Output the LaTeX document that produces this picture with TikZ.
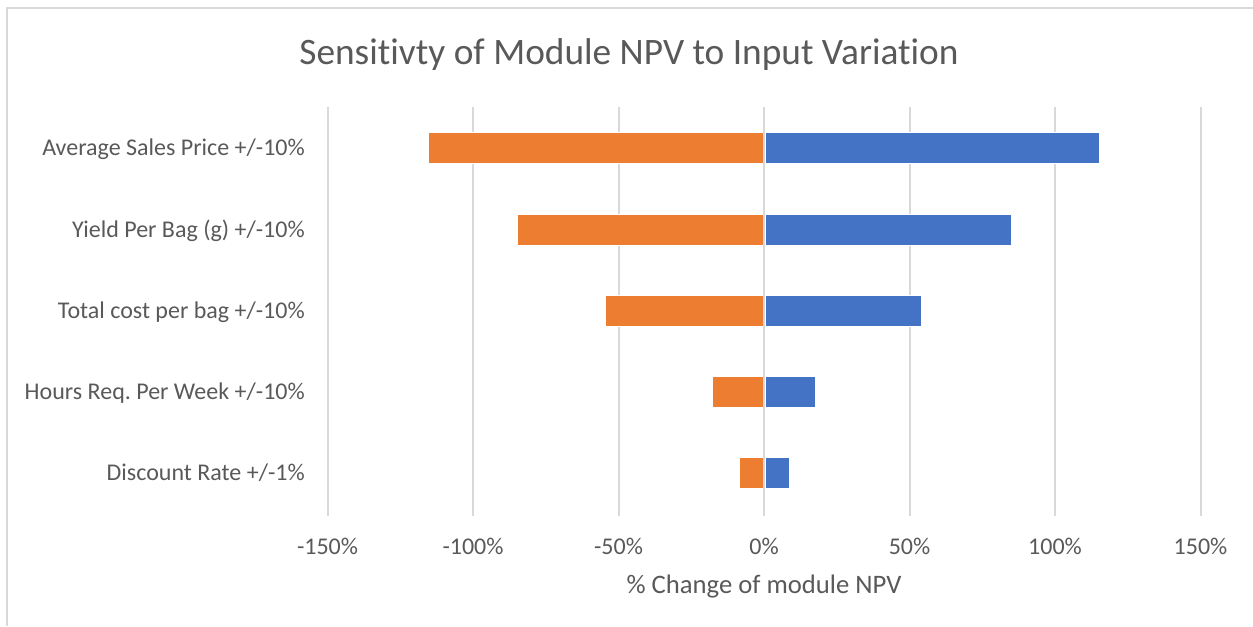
\documentclass[tikz,border=0pt]{standalone}
\usepackage{fontspec}
\setmainfont{Carlito}[Ligatures=NoCommon]
\usetikzlibrary{positioning}

\definecolor{txtgray}{HTML}{595959}
\definecolor{gridgray}{HTML}{D9D9D9}
\definecolor{framegray}{HTML}{D9D9D9}
\definecolor{negorange}{HTML}{ED7D31}
\definecolor{posblue}{HTML}{4472C4}

\begin{document}
\begin{tikzpicture}[x=0.75pt,y=-0.75pt,
		catlabel/.style={anchor=base east, inner sep=0pt, text=txtgray, font=\fontsize{18}{21}\selectfont},
		ticklabel/.style={anchor=base, inner sep=0pt, text=txtgray, font=\fontsize{18}{21}\selectfont},
		gridline/.style={color=gridgray, line width=1.5pt},
		negbar/.style={fill=negorange, draw=white, line width=0.4pt},
		posbar/.style={fill=posblue, draw=white, line width=0.4pt}]
		\useasboundingbox (0,0) rectangle (1253,626);
		\def\pct{2.91}

		% frame of the chart area
		\draw[framegray, line width=1pt] (1253,8) -- (7,8) -- (7,626);

		% title
		\node[anchor=base, inner sep=0pt, text=txtgray, font=\fontsize{28}{32}\selectfont] (title) at (629,64) {Sensitivty of Module NPV to Input Variation};

		% vertical grid lines
		\foreach \p in {-150,-100,-50,0,50,100,150}
			\draw[gridline] (764+\p*\pct,107) -- (764+\p*\pct,516);

		% rows: centre y of each bar
		\coordinate (asp) at (764,148);
		\coordinate (ypb) at (764,230);
		\coordinate (tcb) at (764,311);
		\coordinate (hrw) at (764,392);
		\coordinate (dsc) at (764,473);

		% bars, minus side then plus side
		\draw[negbar] ([shift={(-115.5*\pct,-15.5)}]asp) rectangle ([shift={(-1,15.5)}]asp);
		\draw[posbar] ([shift={(1,-15.5)}]asp) rectangle ([shift={(115.3*\pct,15.5)}]asp);
		\draw[negbar] ([shift={(-84.9*\pct,-15.5)}]ypb) rectangle ([shift={(-1,15.5)}]ypb);
		\draw[posbar] ([shift={(1,-15.5)}]ypb) rectangle ([shift={(84.9*\pct,15.5)}]ypb);
		\draw[negbar] ([shift={(-54.4*\pct,-15.5)}]tcb) rectangle ([shift={(-1,15.5)}]tcb);
		\draw[posbar] ([shift={(1,-15.5)}]tcb) rectangle ([shift={(54.2*\pct,15.5)}]tcb);
		\draw[negbar] ([shift={(-17.9*\pct,-15.5)}]hrw) rectangle ([shift={(-1,15.5)}]hrw);
		\draw[posbar] ([shift={(1,-15.5)}]hrw) rectangle ([shift={(17.6*\pct,15.5)}]hrw);
		\draw[negbar] ([shift={(-8.6*\pct,-15.5)}]dsc) rectangle ([shift={(-1,15.5)}]dsc);
		\draw[posbar] ([shift={(1,-15.5)}]dsc) rectangle ([shift={(8.6*\pct,15.5)}]dsc);

		% zero line over the bars
		\draw[gridline] (764,107) -- (764,516);

		% category labels
		\node[catlabel] (lasp) at (305,155) {Average Sales Price +/-10\%};
		\node[catlabel] (lypb) at (305,237) {Yield Per Bag (g) +/-10\%};
		\node[catlabel] (ltcb) at (305,318) {Total cost per bag +/-10\%};
		\node[catlabel] (lhrw) at (305,399) {Hours Req.\ Per Week +/-10\%};
		\node[catlabel] (ldsc) at (305,480) {Discount Rate +/-1\%};

		% axis tick labels
		\node[ticklabel] (tm150) at (764-150*\pct,554) {-150\%};
		\node[ticklabel] (tm100) at (764-100*\pct,554) {-100\%};
		\node[ticklabel] (tm50) at (764-50*\pct,554) {-50\%};
		\node[ticklabel] (t0) at (764,554) {0\%};
		\node[ticklabel] (t50) at (764+50*\pct,554) {50\%};
		\node[ticklabel] (t100) at (764+100*\pct,554) {100\%};
		\node[ticklabel] (t150) at (764+150*\pct,554) {150\%};

		% axis title
		\node[anchor=base, inner sep=0pt, text=txtgray, font=\fontsize{20}{23}\selectfont] (xtitle) at (764,593) {\% Change of module NPV};
	\end{tikzpicture}
\end{document}
